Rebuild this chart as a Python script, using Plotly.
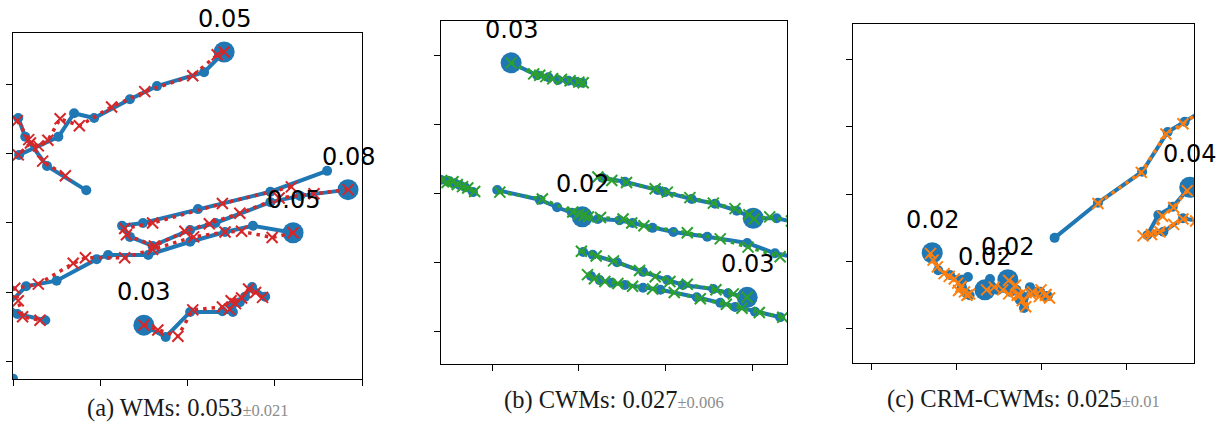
import plotly.graph_objects as go

BLUE = "#1f77b4"
RED = "#d62728"
GREEN = "#2ca02c"
ORANGE = "#ff7f0e"

# ---------------- (a) WMs ----------------
a1_true = [(2.42, 4.46), (2.19, 4.17), (1.65, 3.97), (1.34, 3.78), (0.93, 3.51),
           (0.70, 3.58), (0.52, 3.24), (0.07, 2.98)]
a1_pred = [(2.42, 4.46), (2.34, 4.42), (2.06, 4.12), (1.51, 3.89), (1.13, 3.67),
           (0.76, 3.40), (0.54, 3.50), (0.40, 3.19), (0.29, 3.11), (0.20, 3.15),
           (0.06, 2.98)]
a1b_true = [(0.06, 3.51), (0.14, 3.24), (0.39, 2.82), (0.84, 2.47)]
a1b_pred = [(0.05, 3.47), (0.18, 3.20), (0.34, 2.89), (0.60, 2.68)]
a2_true = [(3.84, 2.48), (3.29, 2.39), (2.95, 2.30), (2.32, 2.00), (2.03, 1.90),
           (1.60, 1.67), (1.34, 1.80), (1.25, 1.96), (1.49, 2.00), (2.12, 2.20),
           (2.95, 2.45), (3.60, 2.75)]
a2_pred = [(3.84, 2.48), (3.45, 2.42), (3.05, 2.36), (2.60, 2.14), (2.25, 1.99),
           (1.97, 1.88), (1.62, 1.67), (1.30, 1.83), (1.28, 1.92), (1.60, 2.00),
           (2.40, 2.28), (3.19, 2.52)]
a3_true = [(3.21, 1.86), (2.75, 1.96), (2.43, 1.87), (2.03, 1.73), (1.55, 1.54),
           (1.09, 1.54), (0.96, 1.48), (0.50, 1.17), (0.15, 1.09), (-0.06, 0.82),
           (0.05, 0.69), (0.37, 0.60)]
a3_pred = [(3.21, 1.86), (2.97, 1.79), (2.62, 1.88), (2.43, 1.87), (2.07, 1.80),
           (1.60, 1.62), (1.28, 1.50), (0.83, 1.50), (0.69, 1.42), (0.29, 1.12),
           (0.02, 1.06), (0.06, 0.88), (0.11, 0.65), (0.31, 0.60)]
a4_true = [(1.50, 0.53), (1.75, 0.36), (2.03, 0.72), (2.40, 0.73), (2.52, 0.72),
           (2.51, 0.82), (2.60, 0.86), (2.66, 0.94), (2.74, 1.08), (2.89, 0.94)]
a4_pred = [(1.50, 0.53), (1.66, 0.46), (1.89, 0.37), (2.06, 0.75), (2.40, 0.79),
           (2.48, 0.76), (2.55, 0.84), (2.50, 0.88), (2.62, 0.92), (2.70, 1.05),
           (2.78, 1.00), (2.86, 0.93)]
a5_true = [(0.00, -0.24), (-0.30, -0.40)]
a5_pred = []
# (trajectory, point index, error text)
a_marks = [(a1_true, 0, "0.05"), (a2_true, 0, "0.08"), (a3_true, 0, "0.05"), (a4_true, 0, "0.03")]

# ---------------- (b) CWMs ----------------
b1_true = [(1.22, 3.90), (1.52, 3.72), (1.65, 3.69), (1.76, 3.65), (1.88, 3.64),
           (1.97, 3.62), (2.04, 3.61)]
b1_pred = [(1.22, 3.90), (1.48, 3.74), (1.55, 3.72), (1.62, 3.70), (1.70, 3.67),
           (1.80, 3.66), (1.90, 3.64), (2.00, 3.62), (2.05, 3.61)]
b2_true = [(0.20, 2.25), (0.41, 2.20), (0.50, 2.18), (0.57, 2.15), (0.63, 2.12),
           (0.69, 2.09), (0.78, 2.02)]
b2_pred = [(0.20, 2.24), (0.42, 2.19), (0.48, 2.16), (0.55, 2.17), (0.60, 2.13),
           (0.66, 2.10), (0.72, 2.08), (0.80, 2.03)]
b3_true = [(1.06, 2.05), (1.55, 1.91), (1.75, 1.80), (1.92, 1.72), (2.04, 1.66),
           (2.22, 1.63), (2.47, 1.61), (2.62, 1.57), (2.85, 1.50), (3.09, 1.44),
           (3.48, 1.37), (3.94, 1.28), (4.26, 1.13), (4.55, 1.06)]
b3_pred = [(1.09, 2.02), (1.58, 1.92), (1.93, 1.73), (2.00, 1.70), (2.06, 1.68),
           (2.11, 1.66), (2.25, 1.65), (2.51, 1.63), (2.61, 1.57), (2.75, 1.53),
           (3.25, 1.43), (3.63, 1.34), (3.95, 1.22), (4.32, 1.08)]
b4_true = [(2.27, 2.23), (2.53, 2.17), (2.91, 2.05), (2.99, 2.02), (3.30, 1.92),
           (3.57, 1.85), (3.82, 1.75), (4.01, 1.64), (4.28, 1.64), (4.46, 1.59)]
b4_pred = [(2.22, 2.24), (2.38, 2.19), (2.55, 2.16), (2.88, 2.07), (3.02, 2.02),
           (3.28, 1.94), (3.55, 1.86), (3.80, 1.78), (3.96, 1.69), (4.02, 1.63),
           (4.20, 1.66), (4.45, 1.60)]
b5_true = [(2.05, 1.15), (2.16, 1.11), (2.44, 1.00), (2.74, 0.86), (3.02, 0.74),
           (3.20, 0.67), (3.55, 0.61), (3.72, 0.55), (3.94, 0.49)]
b5_pred = [(2.03, 1.16), (2.20, 1.09), (2.40, 1.02), (2.70, 0.88), (2.88, 0.79),
           (3.05, 0.72), (3.25, 0.68), (3.58, 0.60), (3.78, 0.54), (3.94, 0.49)]
b6_true = [(2.14, 0.80), (2.24, 0.74), (2.38, 0.70), (2.53, 0.67), (2.74, 0.63),
           (2.94, 0.60), (3.36, 0.49), (3.63, 0.41), (3.80, 0.35), (4.03, 0.28),
           (4.32, 0.20)]
b6_pred = [(2.10, 0.82), (2.18, 0.76), (2.30, 0.72), (2.45, 0.69), (2.62, 0.65),
           (2.85, 0.61), (3.10, 0.56), (3.40, 0.47), (3.70, 0.39), (3.88, 0.33),
           (4.08, 0.27), (4.35, 0.20)]
b_marks = [(b1_true, 0, "0.03"), (b3_true, 4, "0.02"), (b4_true, 7, ""), (b5_true, 8, "0.03")]

# ---------------- (c) CRM-CWMs ----------------
c1_true = [(3.16, 1.35), (3.67, 1.87), (4.19, 2.33), (4.49, 2.92), (4.69, 3.07), (4.87, 3.21)]
c1_pred = [(3.67, 1.86), (4.18, 2.32), (4.47, 2.89), (4.67, 3.04), (4.87, 3.22)]
c2_true = [(4.75, 2.10), (4.55, 1.81), (4.38, 1.69), (4.25, 1.39), (4.44, 1.44),
           (4.67, 1.64), (4.85, 1.60)]
c2_pred = [(4.72, 2.05), (4.56, 1.80), (4.43, 1.67), (4.30, 1.40), (4.20, 1.38),
           (4.40, 1.44), (4.56, 1.55), (4.67, 1.63), (4.82, 1.60)]
c3_true = [(1.72, 1.13), (1.79, 0.87), (1.93, 0.80), (2.07, 0.73), (2.14, 0.77),
           (2.07, 0.62), (2.12, 0.53), (2.16, 0.50)]
c3_pred = [(1.70, 1.12), (1.73, 1.02), (1.78, 0.92), (1.86, 0.82), (1.92, 0.78),
           (1.98, 0.74), (2.02, 0.68), (2.06, 0.63), (2.03, 0.57), (2.10, 0.55),
           (2.13, 0.50), (2.16, 0.52)]
c4_true = [(2.34, 0.58), (2.40, 0.74), (2.49, 0.58), (2.64, 0.55), (2.78, 0.49),
           (2.93, 0.55), (3.08, 0.49)]
c4_pred = [(2.36, 0.58), (2.45, 0.62), (2.55, 0.58), (2.62, 0.52), (2.75, 0.50),
           (2.88, 0.52), (2.98, 0.48), (3.05, 0.50), (3.10, 0.46)]
c5_true = [(2.61, 0.73), (2.71, 0.58), (2.75, 0.43), (2.80, 0.31), (2.87, 0.62),
           (2.99, 0.55), (3.05, 0.49)]
c5_pred = [(2.62, 0.72), (2.70, 0.65), (2.72, 0.50), (2.78, 0.42), (2.82, 0.33),
           (2.90, 0.55), (3.00, 0.58), (3.06, 0.51)]
c_marks = [(c2_true, 0, "0.04"), (c3_true, 0, "0.02"), (c5_true, 0, "0.02"), (c4_true, 0, "0.02")]

# subplot captions: name, mean, spread
captions = [("(a) WMs: ", "0.053", "0.021"),
            ("(b) CWMs: ", "0.027", "0.006"),
            ("(c) CRM-CWMs: ", "0.025", "0.01")]

panels = [
    dict(pairs=[(a1_true, a1_pred), (a1b_true, a1b_pred), (a2_true, a2_pred), (a3_true, a3_pred),
                (a4_true, a4_pred), (a5_true, a5_pred)],
         marks=a_marks, color=RED),
    dict(pairs=[(b1_true, b1_pred), (b2_true, b2_pred), (b3_true, b3_pred), (b4_true, b4_pred),
                (b5_true, b5_pred), (b6_true, b6_pred)],
         marks=b_marks, color=GREEN),
    dict(pairs=[(c1_true, c1_pred), (c2_true, c2_pred), (c3_true, c3_pred), (c4_true, c4_pred),
                (c5_true, c5_pred)],
         marks=c_marks, color=ORANGE),
]

W, H = 1221, 430
# pixel boxes of the three axes (left, top, right, bottom) and their data ranges
boxes = [(13, 33, 362, 379), (441, 21, 787, 364), (853, 24, 1194, 363)]
xranges = [(0, 4), (0.412, 4.399), (0.788, 4.80)]
yranges = [(-0.245, 4.734), (-0.48, 4.509), (-0.504, 4.519)]
xticks = [[0, 1, 2, 3, 4], [1, 2, 3, 4], [1, 2, 3, 4]]
caption_y = [408, 400, 399]

fig = go.Figure()
annotations = []

for i, p in enumerate(panels):
    xa = "x" if i == 0 else f"x{i + 1}"
    ya = "y" if i == 0 else f"y{i + 1}"

    # ground-truth trajectories
    for true, _ in p["pairs"]:
        fig.add_trace(go.Scatter(
            x=[q[0] for q in true], y=[q[1] for q in true], xaxis=xa, yaxis=ya,
            mode="lines+markers", line=dict(color=BLUE, width=4),
            marker=dict(color=BLUE, size=10), hoverinfo="skip"))
    # highlighted points
    fig.add_trace(go.Scatter(
        x=[t[k][0] for t, k, _ in p["marks"]], y=[t[k][1] for t, k, _ in p["marks"]],
        xaxis=xa, yaxis=ya, mode="markers",
        marker=dict(color=BLUE, size=21), hoverinfo="skip"))
    # predicted trajectories
    for _, pred in p["pairs"]:
        if not pred:
            continue
        fig.add_trace(go.Scatter(
            x=[q[0] for q in pred], y=[q[1] for q in pred], xaxis=xa, yaxis=ya,
            mode="lines+markers", line=dict(color=p["color"], width=3.5, dash="3.5px,5px"),
            marker=dict(symbol="x-thin", size=11, line=dict(color=p["color"], width=2)),
            hoverinfo="skip"))
    # error labels
    for t, k, txt in p["marks"]:
        if txt:
            annotations.append(dict(
                x=t[k][0], y=t[k][1], xref=xa, yref=ya, text=txt, showarrow=False,
                yshift=33, font=dict(family="DejaVu Sans", size=24, color="black")))

    l, t_, r, b = boxes[i]
    axis_common = dict(showgrid=False, zeroline=False, showticklabels=False,
                       ticks="outside", ticklen=6, tickwidth=1.3, tickcolor="black",
                       showline=True, mirror=True, linecolor="black", linewidth=1.3,
                       fixedrange=True)
    fig.update_layout(**{
        ("xaxis" if i == 0 else f"xaxis{i + 1}"): dict(
            domain=[l / W, r / W], range=list(xranges[i]), tickvals=xticks[i],
            anchor=ya, **axis_common),
        ("yaxis" if i == 0 else f"yaxis{i + 1}"): dict(
            domain=[1 - b / H, 1 - t_ / H], range=list(yranges[i]), tickvals=[0, 1, 2, 3, 4],
            anchor=xa, **axis_common),
    })

    name, mean, spread = captions[i]
    annotations.append(dict(
        x=(l + r) / 2 / W, y=1 - caption_y[i] / H, xref="paper", yref="paper",
        xanchor="center", yanchor="middle", showarrow=False,
        text=f"{name}{mean}<span style='font-size:16.5px;fill:#8c8c8c'>±{spread}</span>",
        font=dict(family="Liberation Serif", size=24.5, color="#1a1a1a")))

fig.update_layout(width=W, height=H, margin=dict(l=0, r=0, t=0, b=0),
                  paper_bgcolor="white", plot_bgcolor="white", showlegend=False,
                  annotations=annotations)

fig.write_html("out.html")
